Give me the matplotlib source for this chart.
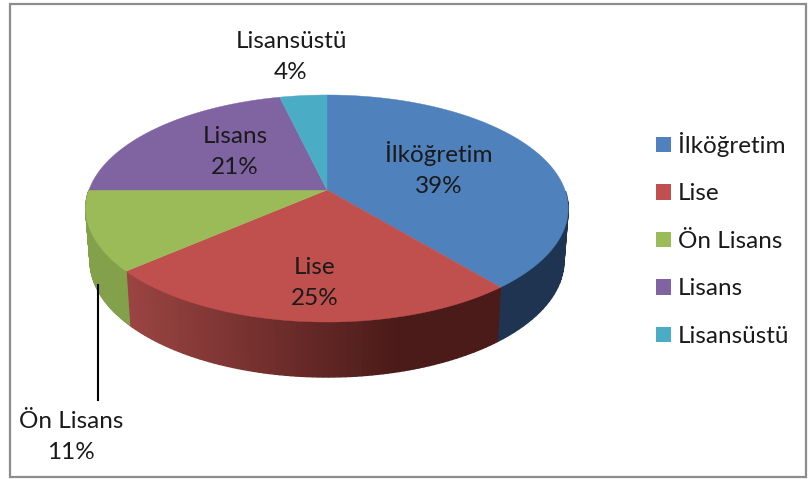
import numpy as np
import matplotlib.pyplot as plt
from matplotlib.patches import Patch, Rectangle

plt.rcParams['font.family'] = ['Lato', 'DejaVu Sans']

# egitim durumu verileri
categories = ['İlköğretim', 'Lise', 'Ön Lisans', 'Lisans', 'Lisansüstü']
values = [39.0, 24.6, 11.4, 21.3, 3.7]
colors = ['#4F81BD', '#C0504D', '#9BBB59', '#8064A2', '#4BACC6']

# yan yuzey renkleri (sol uc, sag uc)
side_left = ['#1E3450', '#9A4442', '#83A04B', '#5F4A7A', '#387F93']
side_right = ['#1E3450', '#4B1B19', '#7E9A47', '#5F4A7A', '#387F93']

CX, CY = 327, 190
W, H, K = 238, 110.5, 0.163
DEPTH = 52


def project(t, bottom=False):
    # t: saat yonunde, tepeden aci (radyan)
    x, y = np.sin(t), np.cos(t)
    d = 1 + K * y
    if bottom:
        return CX + 0.982 * W * x / d, CY + DEPTH - 113 * y / d
    return CX + W * x / d, CY - H * y / d


def mix(c1, c2, f):
    a = np.array(plt.matplotlib.colors.to_rgb(c1))
    b = np.array(plt.matplotlib.colors.to_rgb(c2))
    return tuple(a + (b - a) * f)


fig = plt.figure(figsize=(8.11, 4.79), dpi=100)
ax = fig.add_axes([0, 0, 1, 1])
ax.set_xlim(0, 811)
ax.set_ylim(479, 0)
ax.axis('off')

ax.add_patch(Rectangle((10, 4), 796, 473, fc='white', ec='#8C8C8C', lw=1.6))

edges = 2 * np.pi * np.cumsum([0] + values) / sum(values)

# yan yuzey
for i in range(len(values)):
    ts = np.linspace(edges[i], edges[i + 1], 80)
    for j in range(len(ts) - 1):
        if np.cos(ts[j]) > 0.0 or np.cos(ts[j + 1]) > 0.0:
            continue
        tx, ty = project(ts[j:j + 2])
        bx, by = project(ts[j:j + 2], bottom=True)
        f = (tx[0] - 130) / (400 - 130)
        c = mix(side_left[i], side_right[i], float(np.clip(f, 0, 1)))
        ax.fill(np.r_[tx, bx[::-1]], np.r_[ty, by[::-1]], color=c, lw=1.0)

# ust yuzey
for i in range(len(values)):
    ts = np.linspace(edges[i], edges[i + 1], 120)
    tx, ty = project(ts)
    ax.fill(np.r_[CX, tx], np.r_[CY, ty], color=colors[i], lw=0.3)

# etiketler
label_pos = [(439, 169), (315, 283), (71, 437), (235, 152), (291, 57)]
for name, v, pos in zip(categories, values, label_pos):
    ax.text(pos[0], pos[1], f'{name}\n{round(v)}%', ha='center', va='center',
            fontsize=17.5, color='#1A1A1A', linespacing=1.55)

# On Lisans kilavuz cizgisi
ax.plot([97.5, 97.5], [285, 400], color='black', lw=1.5)

handles = [Patch(fc=c, ec='none') for c in colors]
ax.legend(handles, categories, loc='upper left', bbox_to_anchor=(656, 132),
          bbox_transform=ax.transData, frameon=False, fontsize=17.5,
          handlelength=0.62, handleheight=0.62, handletextpad=0.28,
          labelspacing=1.09, borderpad=0, borderaxespad=0, labelcolor='#1A1A1A')

plt.savefig('out.png', dpi=100)
